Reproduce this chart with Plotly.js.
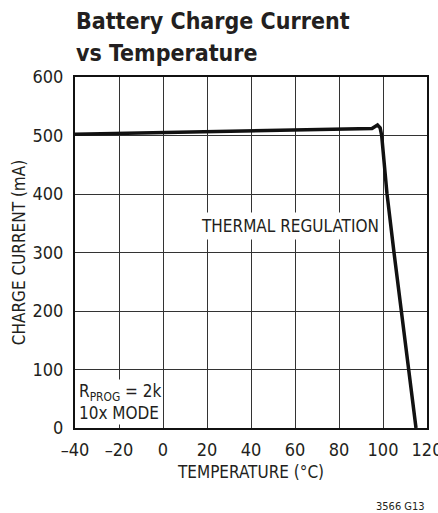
<!DOCTYPE html>
<html>
<head>
<meta charset="utf-8">
<script src="https://cdn.plot.ly/plotly-3.0.1.min.js"></script>
<style>html,body{margin:0;padding:0;background:#fff;}#chart{width:438px;height:513px;}</style>
</head>
<body>
<div id="chart"></div>
<script>
const temperatureC = [-40, 0, 40, 80, 90, 95, 97.5, 98.7, 99.4, 101.8, 105, 108.5, 111.8, 115];
const chargeCurrentmA = [502, 505, 508, 511, 511, 512, 518, 513, 500, 401, 300, 199, 99, 0];
const xTickVals = [-40, -20, 0, 20, 40, 60, 80, 100, 120];
const xTickText = ['\u201340', '\u201320', '0', '20', '40', '60', '80', '100', '120'];
const yTickVals = [0, 100, 200, 300, 400, 500, 600];
const titleLines = ['Battery Charge Current', 'vs Temperature'];

const FONT = '"Liberation Sans Narrow", "DejaVu Sans Condensed", Arial, sans-serif';
const TXT = '#231f20';

const trace = {
  x: temperatureC, y: chargeCurrentmA, type: 'scatter', mode: 'lines',
  line: {color: '#111', width: 3.5}, hoverinfo: 'skip', cliponaxis: true
};

const pyToPaper = py => (428 - py) / 351;

const layout = {
  width: 438, height: 513, autosize: false,
  margin: {l: 75, r: 11, t: 77, b: 85},
  paper_bgcolor: '#fff', plot_bgcolor: '#fff',
  showlegend: false,
  font: {family: FONT, color: TXT, size: 18},
  xaxis: {
    range: [-40, 120], tickvals: xTickVals, ticktext: xTickText,
    showline: true, mirror: true, linecolor: '#111', linewidth: 2,
    showgrid: true, gridcolor: '#333', gridwidth: 1, zeroline: false,
    ticks: '', ticklabelstandoff: 4, ticklabeloverflow: 'allow',
    tickfont: {family: FONT, size: 18, color: TXT},
    title: {text: 'TEMPERATURE (°C)', font: {family: FONT, size: 17, color: TXT}, standoff: 8},
    fixedrange: true
  },
  yaxis: {
    range: [0, 600], tickvals: yTickVals,
    showline: true, mirror: true, linecolor: '#111', linewidth: 2,
    showgrid: true, gridcolor: '#333', gridwidth: 1, zeroline: false,
    ticks: '', ticklabelstandoff: 6,
    tickfont: {family: FONT, size: 18, color: TXT},
    title: {text: 'CHARGE CURRENT (mA)', font: {family: FONT, size: 17, color: TXT}, standoff: 3},
    fixedrange: true
  },
  annotations: [
    {x: 0, y: pyToPaper(21), xref: 'paper', yref: 'paper', xanchor: 'left', yanchor: 'middle', xshift: -1,
     text: '<b>' + titleLines[0] + '</b>', showarrow: false, font: {family: FONT, size: 23, color: TXT}},
    {x: 0, y: pyToPaper(53), xref: 'paper', yref: 'paper', xanchor: 'left', yanchor: 'middle', xshift: -1,
     text: '<b>' + titleLines[1] + '</b>', showarrow: false, font: {family: FONT, size: 23, color: TXT}},
    {x: 57.7, y: 345, xref: 'x', yref: 'y', text: 'THERMAL REGULATION', showarrow: false,
     bgcolor: '#fff', borderpad: 3, font: {family: FONT, size: 17, color: TXT}},
    {x: -40, y: 0, xref: 'x', yref: 'y', xanchor: 'left', yanchor: 'bottom', xshift: 2, yshift: 3,
     text: 'R<sub>PROG</sub> = 2k<br>10x MODE', showarrow: false, align: 'left',
     bgcolor: '#fff', borderpad: 1, font: {family: FONT, size: 17, color: TXT}},
    {x: 1, y: pyToPaper(506), xref: 'paper', yref: 'paper', xanchor: 'right', yanchor: 'middle',
     text: '3566 G13', showarrow: false, font: {family: FONT, size: 11, color: TXT}}
  ]
};

Plotly.newPlot('chart', [trace], layout, {displayModeBar: false, staticPlot: true});
</script>
</body>
</html>
